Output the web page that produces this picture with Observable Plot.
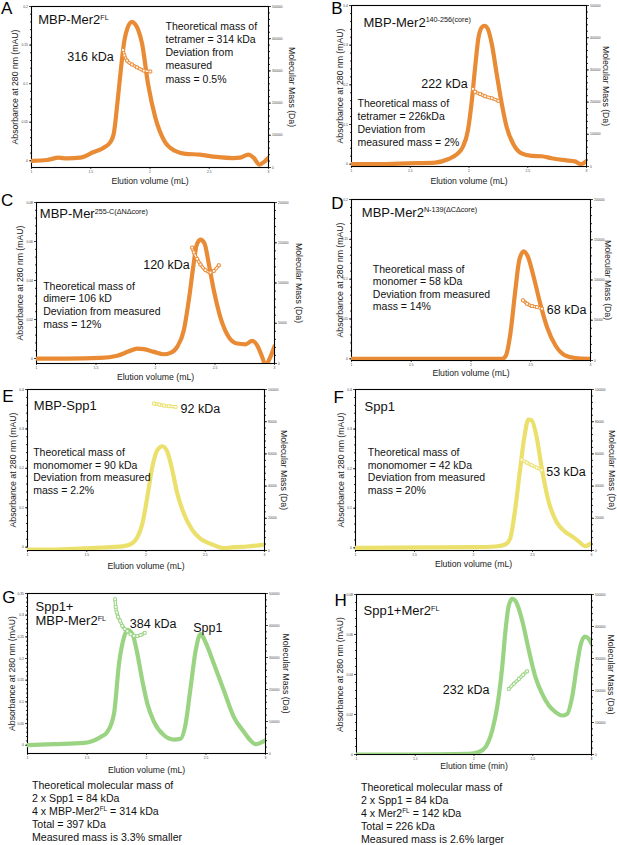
<!DOCTYPE html>
<html><head><meta charset="utf-8">
<script src="https://cdn.jsdelivr.net/npm/d3@7"></script>
<script src="https://cdn.jsdelivr.net/npm/@observablehq/plot@0.6"></script>
<style>
body{margin:0;background:#fff;font-family:"Liberation Sans",Arial,Helvetica,sans-serif;}
#fig{position:relative;width:617px;height:845px;overflow:hidden;background:#fff;}
.panel{position:absolute;}
.panel svg{overflow:visible;}
.cap{position:absolute;font-size:10.6px;line-height:12.9px;color:#111;white-space:nowrap;}
.cap sup{font-size:6.4px;vertical-align:4px;line-height:0;}
</style></head><body><div id="fig"></div>
<script>
// ---------- data ----------
const xTicks = [1, 1.5, 2, 2.5, 3];
const yTicksA = [0, 0.05, 0.1, 0.15, 0.2];
const yTicksB = [0, 0.1, 0.2, 0.3, 0.4];
const yTicksC = [0, 0.02, 0.04, 0.06, 0.08];
const yTicksD = [0, 0.05, 0.1, 0.15, 0.2];
const yTicksE = [0, 0.1, 0.2, 0.3, 0.4];
const yTicksG = [0, 0.05, 0.1, 0.15, 0.2, 0.25, 0.3, 0.35];
const yTicksH = [0, 0.02, 0.04, 0.06, 0.08];
const massTicks500k = [0, 100000, 200000, 300000, 400000, 500000];
const massTicks200k = [0, 50000, 100000, 150000, 200000];
const massTicks100k = [0, 20000, 40000, 60000, 80000, 100000];

const aVol = [1.0,1.13,1.23,1.30,1.41,1.52,1.61,1.665,1.694,1.727,1.756,1.784,1.81,1.848,1.875,1.90,1.933,1.983,2.045,2.12,2.21,2.30,2.42,2.56,2.70,2.76,2.83,2.874,2.924,2.958,3.0];
const aAbs = [0,0.001,0.004,0.003,0.004,0.011,0.017,0.024,0.035,0.078,0.121,0.156,0.172,0.180,0.177,0.170,0.152,0.100,0.056,0.026,0.013,0.009,0.008,0.005,0.0035,0.004,0.008,0.004,-0.005,-0.002,0.004];
const aMVol = [1.772,1.784,1.806,1.848,1.89,1.947,2.003];
const aMass = [365000,348000,332000,320000,311000,301000,298000];

const bVol = [1.0,1.204,1.487,1.713,1.826,1.897,1.945,1.99,2.024,2.052,2.081,2.109,2.132,2.16,2.194,2.236,2.279,2.321,2.378,2.448,2.533,2.618,2.703,2.816,2.901,2.952,3.0];
const bAbs = [0,0,0.002,0.004,0.013,0.025,0.042,0.084,0.16,0.244,0.32,0.345,0.349,0.341,0.303,0.227,0.152,0.093,0.05,0.027,0.021,0.020,0.015,0.010,0.007,0,0.008];
const bMVol = [2.033,2.052,2.095,2.137,2.194,2.25];
const bMass = [241000,232000,225000,218000,212000,204000];

const cVol = [1.0,1.258,1.538,1.678,1.776,1.846,1.902,1.986,2.07,2.126,2.182,2.238,2.28,2.317,2.345,2.378,2.412,2.448,2.49,2.546,2.616,2.686,2.756,2.812,2.854,2.896,2.924,2.966,3.0];
const cAbs = [0,0,0.0003,0.0014,0.0037,0.0051,0.0048,0.0034,0.0022,0.0029,0.006,0.0145,0.030,0.047,0.058,0.061,0.059,0.0485,0.035,0.021,0.011,0.0077,0.0073,0.009,0.0068,0.0009,-0.0034,0.0009,0.0063];
const cMVol = [2.308,2.322,2.35,2.378,2.42,2.462,2.49,2.532];
const cMass = [144000,138000,130000,123000,116000,113000,115000,122000];

const dVol = [1.0,2.259,2.292,2.329,2.371,2.404,2.441,2.477,2.524,2.58,2.636,2.706,2.79,2.874,3.0];
const dAbs = [0,0,0.004,0.031,0.086,0.124,0.135,0.128,0.103,0.069,0.040,0.017,0.004,0.001,0];
const dMVol = [2.435,2.469,2.51,2.552,2.594];
const dMass = [74700,70500,67600,66400,64300];

const eVol = [1.0,1.197,1.478,1.702,1.815,1.885,1.927,1.969,2.011,2.053,2.096,2.138,2.18,2.222,2.264,2.32,2.39,2.461,2.545,2.657,2.742,2.854,3.0];
const eAbs = [-0.006,-0.006,-0.003,0,0.0025,0.010,0.025,0.059,0.127,0.203,0.246,0.256,0.242,0.195,0.136,0.085,0.044,0.021,0.0085,-0.0025,0,0.0017,0.0068];
const eMVol = [2.067,2.11,2.152,2.194,2.25];
const eMass = [91300,90700,90000,89600,89200];

const fVol = [1.0,2.014,2.183,2.268,2.31,2.352,2.394,2.431,2.465,2.493,2.535,2.577,2.634,2.704,2.775,2.845,2.901,2.944,3.0];
const fAbs = [0,0.0017,0.0034,0.0084,0.023,0.095,0.196,0.28,0.324,0.322,0.28,0.204,0.12,0.065,0.041,0.027,0.014,0.004,0.012];
const fMVol = [2.408,2.451,2.493,2.535,2.577];
const fMass = [56400,54600,52900,51500,49800];

const gVol = [1.0,1.224,1.476,1.615,1.671,1.727,1.769,1.811,1.839,1.881,1.923,1.965,2.007,2.063,2.147,2.231,2.287,2.329,2.371,2.413,2.455,2.497,2.566,2.65,2.734,2.818,2.874,2.916,2.958,3.0];
const gAbs = [0,0.0023,0.0054,0.019,0.031,0.073,0.188,0.249,0.266,0.257,0.211,0.149,0.096,0.054,0.023,0.013,0.015,0.050,0.134,0.218,0.257,0.237,0.188,0.126,0.065,0.031,0.011,0.0023,0.0054,0.011];
const gMVol = [1.736,1.741,1.75,1.761,1.778,1.797,1.817,1.839,1.867,1.895,1.923,1.951,1.985];
const gMass = [482000,458000,441000,427000,415000,399000,389000,382000,373000,368000,367000,370000,377000];

const hVol = [1.0,1.445,1.956,2.041,2.098,2.155,2.197,2.24,2.268,2.296,2.325,2.359,2.41,2.467,2.523,2.58,2.637,2.694,2.75,2.793,2.835,2.878,2.906,2.943,2.977,3.0];
const hAbs = [0,0,0.0003,0.0012,0.0037,0.012,0.0237,0.0437,0.062,0.0745,0.0778,0.0762,0.067,0.052,0.0387,0.0303,0.0245,0.0212,0.0195,0.0203,0.0287,0.0453,0.0545,0.059,0.0578,0.0553];
const hMVol = [2.296,2.339,2.382,2.418,2.452];
const hMass = [205000,221000,236000,249000,260000];

// ---------- styling / layout ----------
const ORANGE = "#E98B35", YELLOW = "#EBE06C", GREEN = "#9AD483";
const YLAB = "Absorbance at 280 nm (mAU)", RLAB = "Molecular Mass (Da)", XLAB = "Elution volume (mL)";

const panels = [
  {letter:"A", lp:[0.5,1.7], left:0, top:0, width:308, height:190, frame:[31,268,6,167], yDomain:[-0.0087,0.2], yTicks:yTicksA, massTicks:massTicks500k,
   vol:aVol, abs:aAbs, mVol:aMVol, mass:aMass, color:ORANGE, labs:[15,291,181], xlab:XLAB,
   texts:[["MBP-Mer2^FL",37.7,12.7,13],["Theoretical mass of\ntetramer = 314 kDa\nDeviation from\nmeasured\nmass = 0.5%",165,20.7,10.5,1.24],["316 kDa",66.7,50,12.5]]},
  {letter:"B", lp:[330.7,1.7], left:308, top:0, width:309, height:190, frame:[351,586,5,166], yDomain:[-0.0059,0.4], yTicks:yTicksB, massTicks:massTicks500k,
   vol:bVol, abs:bAbs, mVol:bMVol, mass:bMass, color:ORANGE, labs:[340,605,181], xlab:XLAB,
   texts:[["MBP-Mer2^140-256(core)",363,15,13],["222 kDa",420.7,77.3,12.5],["Theoretical mass of\ntetramer = 226kDa\nDeviation from\nmeasured mass = 2%",357,97.3,10.5,1.24]]},
  {letter:"C", lp:[0.5,193.3], left:0, top:190, width:308, height:190, frame:[36,274,202,363], yDomain:[-0.00255,0.08], yTicks:yTicksC, massTicks:massTicks200k,
   vol:cVol, abs:cAbs, mVol:cMVol, mass:cMass, color:ORANGE, labs:[20,298,377], xlab:XLAB,
   texts:[["MBP-Mer^255-C(ΔNΔcore)",39.3,206.7,13],["120 kDa",142.7,258.3,12.5],["Theoretical mass of\ndimer= 106 kD\nDeviation from measured\nmass = 12%",42.7,280,10.5,1.22]]},
  {letter:"D", lp:[330.7,196.7], left:308, top:190, width:309, height:190, frame:[351,590,199,360], yDomain:[-0.0021,0.2], yTicks:yTicksD, massTicks:massTicks200k,
   vol:dVol, abs:dAbs, mVol:dMVol, mass:dMass, color:ORANGE, labs:[340,607,373], xlab:XLAB,
   texts:[["MBP-Mer2^N-139(ΔCΔcore)",361.3,205,13],["Theoretical mass of\nmonomer = 58 kDa\nDeviation from measured\nmass = 14%",372.3,263.3,10.5,1.19],["68 kDa",546.3,302.7,12.5]]},
  {letter:"E", lp:[1.7,389.3], left:0, top:380, width:308, height:190, frame:[27,264,389,550], yDomain:[-0.0085,0.4], yTicks:yTicksE, massTicks:massTicks100k,
   vol:eVol, abs:eAbs, mVol:eMVol, mass:eMass, color:YELLOW, labs:[13,283,566], xlab:XLAB,
   texts:[["MBP-Spp1",33.3,398.3,13],["92 kDa",180,401.7,12.5],["Theoretical mass of\nmonomomer = 90 kDa\nDeviation from measured\nmass = 2.2%",32.7,446.7,10.5,1.2]]},
  {letter:"F", lp:[333,390], left:308, top:380, width:309, height:190, frame:[355,591,389,550], yDomain:[-0.00675,0.4], yTicks:yTicksE, massTicks:massTicks100k,
   vol:fVol, abs:fAbs, mVol:fMVol, mass:fMass, color:YELLOW, labs:[341,611.5,564], xlab:XLAB,
   texts:[["Spp1",364,399.3,13],["Theoretical mass of\nmonomomer = 42 kDa\nDeviation from measured\nmass = 20%",367.3,446.7,10.5,1.2],["53 kDa",545.7,465,12.5]]},
  {letter:"G", lp:[1.7,590], left:0, top:580, width:308, height:195, frame:[27,265,593,753], yDomain:[-0.0191,0.35], yTicks:yTicksG, massTicks:massTicks500k,
   vol:gVol, abs:gAbs, mVol:gMVol, mass:gMass, color:GREEN, labs:[12,285,770], xlab:XLAB,
   texts:[["Spp1+\nMBP-Mer2^FL",35,600,13,1.1],["384 kDa",129.3,617.3,12.5],["Spp1",192.7,621,12.5]]},
  {letter:"H", lp:[334,593.3], left:308, top:580, width:309, height:195, frame:[356,591,594,754], yDomain:[0,0.08], yTicks:yTicksH, massTicks:massTicks500k,
   vol:hVol, abs:hAbs, mVol:hMVol, mass:hMass, color:GREEN, labs:[340,610,765.5], xlab:"Elution time (min)",
   texts:[["Spp1+Mer2^FL",363,603.3,13],["232 kDa",442.3,683.3,12.5]]}
];

const SVGNS = "http://www.w3.org/2000/svg";
function supify(svg) {
  svg.querySelectorAll("text, tspan").forEach(el => {
    if (el.children.length) return;
    const s = el.textContent;
    const i = s.indexOf("^");
    if (i < 0) return;
    el.textContent = s.slice(0, i);
    const t = document.createElementNS(SVGNS, "tspan");
    t.setAttribute("dy", "-4.3");
    t.setAttribute("font-size", "7.2");
    t.textContent = s.slice(i + 1);
    el.appendChild(t);
  });
}

function makePanel(p) {
  const [fl, fr, ft, fb] = p.frame;
  const m2y = d3.scaleLinear().domain([0, d3.max(p.massTicks)]).range(p.yDomain);
  const curveRows = p.vol.map((v, i) => ({v, a: p.abs[i]}));
  const massRows = p.mVol.map((v, i) => ({v, a: m2y(p.mass[i])}));
  const yStep = p.yTicks[1] - p.yTicks[0];
  const yMinor = d3.range(0, d3.max(p.yTicks) + 1e-9, yStep / 5);
  const mStep = p.massTicks[1] - p.massTicks[0];
  const mMinor = d3.range(0, d3.max(p.massTicks) + 1, mStep / 5).map(m2y);
  const xMinor = d3.range(1, 3.0001, 0.1);
  const txt = (t, x, y, fs, lh) => Plot.text([t], {text: d => d, frameAnchor: "top-left", dx: x - fl, dy: y - ft,
    textAnchor: "start", lineAnchor: "top", fontSize: fs, lineHeight: lh ?? 1.2, fill: "#111"});
  const axisLab = {textAnchor: "middle", lineAnchor: "middle", fontSize: 8.7, fill: "#222"};
  const marks = [
    Plot.axisX({ticks: xMinor, tickSize: 1, tickFormat: () => "", label: null, color: "#333"}),
    Plot.axisX({ticks: xTicks, tickSize: 2, tickPadding: 1, fontSize: 3.3, tickFormat: d => String(d), label: null, color: "#444"}),
    Plot.axisY({ticks: yMinor, tickSize: 1, tickFormat: () => "", label: null, color: "#333"}),
    Plot.axisY({ticks: p.yTicks, tickSize: 2, tickPadding: 1.5, fontSize: 3.4, tickFormat: d => String(d), label: null, color: "#444"}),
    Plot.axisY({anchor: "right", ticks: mMinor, tickSize: 1, tickFormat: () => "", label: null, color: "#333"}),
    Plot.axisY({anchor: "right", ticks: p.massTicks.map(m2y), tickSize: 2, tickPadding: 1.5, fontSize: 3.2,
      tickFormat: d => String(Math.round(m2y.invert(d))), label: null, color: "#444"}),
    Plot.frame({stroke: "#000", strokeWidth: 1.1}),
    Plot.line(curveRows, {x: "v", y: "a", stroke: p.color, strokeWidth: 4.2, curve: "monotone-x", clip: true, strokeLinejoin: "round"}),
    Plot.line(massRows, {x: "v", y: "a", stroke: p.color, strokeWidth: 3.4, curve: "monotone-x"}),
    Plot.line(massRows, {x: "v", y: "a", stroke: "#fff", strokeWidth: 1.2, curve: "monotone-x"}),
    Plot.dot(massRows, {x: "v", y: "a", symbol: "square", r: 1.6, stroke: p.color, fill: "#fff", strokeWidth: 0.9}),
    Plot.text([YLAB], {text: d => d, frameAnchor: "left", rotate: -90, dx: p.labs[0] - fl, ...axisLab}),
    Plot.text([RLAB], {text: d => d, frameAnchor: "right", rotate: 90, dx: p.labs[1] - fr, ...axisLab}),
    Plot.text([p.xlab], {text: d => d, frameAnchor: "bottom", dy: p.labs[2] - fb, ...axisLab}),
    Plot.text([p.letter], {text: d => d, frameAnchor: "top-left", dx: p.lp[0] - fl, dy: p.lp[1] - ft,
      textAnchor: "start", lineAnchor: "top", fontSize: 17, fill: "#000"}),
    ...p.texts.map(t => txt(...t))
  ];
  const svg = Plot.plot({
    width: p.width, height: p.height,
    marginLeft: fl - p.left, marginRight: p.left + p.width - fr,
    marginTop: ft - p.top, marginBottom: p.top + p.height - fb,
    x: {domain: [1, 3]},
    y: {domain: p.yDomain},
    style: {fontFamily: "'Liberation Sans', Arial, Helvetica, sans-serif", background: "transparent", overflow: "visible"},
    marks
  });
  supify(svg);
  const div = document.createElement("div");
  div.className = "panel";
  div.style.left = p.left + "px";
  div.style.top = p.top + "px";
  div.appendChild(svg);
  return div;
}

const fig = document.getElementById("fig");
panels.forEach(p => fig.appendChild(makePanel(p)));

const capG = document.createElement("div");
capG.className = "cap";
capG.style.left = "32px"; capG.style.top = "779px";
capG.innerHTML = "Theoretical molecular mass of<br>2 x Spp1 = 84 kDa<br>4 x MBP-Mer2<sup>FL</sup> = 314 kDa<br>Total = 397 kDa<br>Measured mass is 3.3% smaller";
fig.appendChild(capG);
const capH = document.createElement("div");
capH.className = "cap";
capH.style.left = "361px"; capH.style.top = "781px";
capH.innerHTML = "Theoretical molecular mass of<br>2 x Spp1 = 84 kDa<br>4 x Mer2<sup>FL</sup> = 142 kDa<br>Total = 226 kDa<br>Measured mass is 2.6% larger";
fig.appendChild(capH);
</script>
</body></html>
